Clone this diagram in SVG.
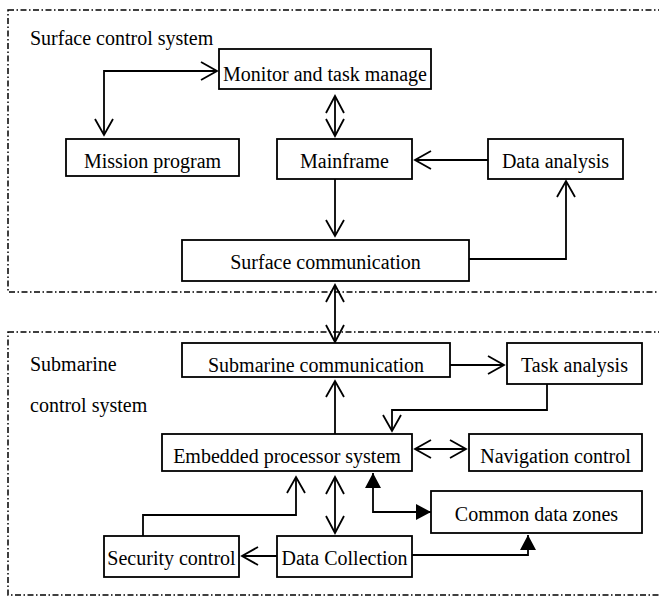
<svg xmlns="http://www.w3.org/2000/svg" width="659" height="597" viewBox="0 0 659 597">
<style>
  .box rect { fill: #fff; stroke: #000; stroke-width: 1.8; }
  text { font-family: "Liberation Serif", "Times New Roman", serif; font-size: 20px; fill: #000; }
  .c { text-anchor: middle; }
  .region { fill: none; stroke: #000; stroke-width: 1.5; stroke-dasharray: 6 2.5 1.5 2.5; }
  .conn path { fill: none; stroke: #000; stroke-width: 1.8; }
</style>
<defs>
  <marker id="open" viewBox="0 0 17 19" refX="16" refY="9.5" markerWidth="17" markerHeight="19" markerUnits="userSpaceOnUse" orient="auto-start-reverse" overflow="visible">
    <path d="M0,0.5 L16,9.5 L0,18.5" fill="none" stroke="#000" stroke-width="1.8"/>
  </marker>
  <marker id="long" viewBox="0 0 18 20" refX="17" refY="10" markerWidth="18" markerHeight="20" markerUnits="userSpaceOnUse" orient="auto-start-reverse" overflow="visible">
    <path d="M0,1 L17,10 L0,19" fill="none" stroke="#000" stroke-width="1.8"/>
  </marker>
  <marker id="solid" viewBox="0 0 15 16" refX="15" refY="8" markerWidth="15" markerHeight="16" markerUnits="userSpaceOnUse" orient="auto-start-reverse" overflow="visible">
    <path d="M0,0 L15,8 L0,16 Z" fill="#000" stroke="none"/>
  </marker>
</defs>

<rect class="region" x="8" y="10" width="700" height="282"/>
<rect class="region" x="8" y="332" width="700" height="263"/>
<text x="30" y="45">Surface control system</text>
<text x="30" y="371">Submarine</text>
<text x="30" y="412">control system</text>

<g class="conn">
  <path d="M104,135 V71 H217" marker-start="url(#open)" marker-end="url(#open)"/>
  <path d="M335,96 V136" marker-start="url(#long)" marker-end="url(#long)"/>
  <path d="M488,160 H415" marker-end="url(#open)"/>
  <path d="M335,179 V236" marker-end="url(#open)"/>
  <path d="M469,259 H566 V181" marker-end="url(#open)"/>
  <path d="M335,285 V342" marker-start="url(#long)" marker-end="url(#long)"/>
  <path d="M450,365 H504" marker-end="url(#open)"/>
  <path d="M547,384 V410 H392 V431" marker-end="url(#open)"/>
  <path d="M335,434 V381" marker-end="url(#open)"/>
  <path d="M415,449 H466" marker-start="url(#open)" marker-end="url(#open)"/>
  <path d="M373,473 V512 H431" marker-start="url(#solid)" marker-end="url(#solid)"/>
  <path d="M335,477 V533" marker-start="url(#long)" marker-end="url(#long)"/>
  <path d="M143,536 V515 H296 V477" marker-end="url(#open)"/>
  <path d="M277,556 H242" marker-end="url(#open)"/>
  <path d="M412,555 H528 V535" marker-end="url(#solid)"/>
</g>

<g id="monitor" class="box"><rect x="219" y="49" width="212" height="40"/><text class="c" x="325" y="81">Monitor and task manage</text></g>
<g id="mission" class="box"><rect x="66" y="139" width="173" height="37"/><text class="c" x="152.5" y="168">Mission program</text></g>
<g id="mainframe" class="box"><rect x="277" y="139" width="135" height="40"/><text class="c" x="344.5" y="168">Mainframe</text></g>
<g id="data-analysis" class="box"><rect x="488" y="139" width="135" height="40"/><text class="c" x="555.5" y="168">Data analysis</text></g>
<g id="surface-comm" class="box"><rect x="182" y="240" width="287" height="41"/><text class="c" x="325.5" y="269">Surface communication</text></g>
<g id="submarine-comm" class="box"><rect x="182" y="343" width="268" height="34"/><text class="c" x="316" y="372">Submarine communication</text></g>
<g id="task-analysis" class="box"><rect x="507" y="343" width="135" height="41"/><text class="c" x="574.5" y="372">Task analysis</text></g>
<g id="embedded" class="box"><rect x="162" y="434" width="250" height="37"/><text class="c" x="287" y="463">Embedded processor system</text></g>
<g id="navigation" class="box"><rect x="469" y="434" width="173" height="37"/><text class="c" x="555.5" y="463">Navigation control</text></g>
<g id="common-data" class="box"><rect x="431" y="491" width="211" height="42"/><text class="c" x="536.5" y="521">Common data zones</text></g>
<g id="security" class="box"><rect x="104" y="536" width="135" height="41"/><text class="c" x="171.5" y="565">Security control</text></g>
<g id="data-collection" class="box"><rect x="277" y="536" width="135" height="41"/><text class="c" x="344.5" y="565">Data Collection</text></g>
</svg>
